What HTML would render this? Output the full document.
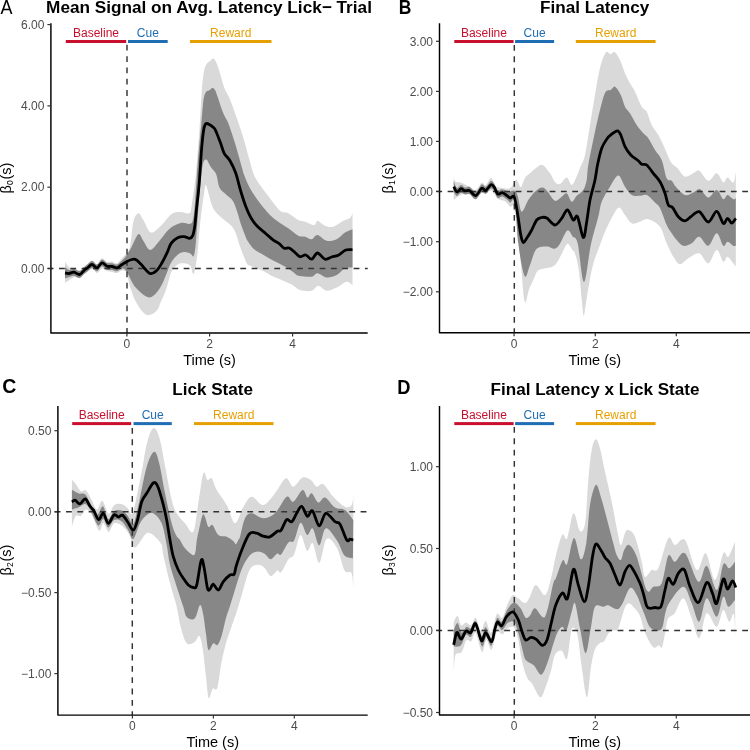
<!DOCTYPE html>
<html><head><meta charset="utf-8"><style>
html,body{margin:0;padding:0;background:#fff;width:750px;height:750px;overflow:hidden}
svg{display:block;will-change:transform}
text{font-family:"Liberation Sans", sans-serif}
</style></head><body>
<svg width="750" height="750" viewBox="0 0 750 750">
<rect width="750" height="750" fill="#fff"/>
<path d="M65.00,262.00C65.83,263.00 68.33,266.83 70.00,268.00C71.67,269.17 73.33,268.58 75.00,269.00C76.67,269.42 78.50,270.75 80.00,270.50C81.50,270.25 82.00,269.17 84.00,267.50C86.00,265.83 89.83,261.08 92.00,260.50C94.17,259.92 95.33,264.33 97.00,264.00C98.67,263.67 100.33,258.83 102.00,258.50C103.67,258.17 105.33,261.50 107.00,262.00C108.67,262.50 110.33,261.25 112.00,261.50C113.67,261.75 115.33,264.08 117.00,263.50C118.67,262.92 120.50,259.58 122.00,258.00C123.50,256.42 124.67,255.83 126.00,254.00C127.33,252.17 128.78,252.33 130.00,247.00C131.22,241.67 131.92,227.62 133.30,222.00C134.68,216.38 136.63,213.63 138.30,213.30C139.97,212.97 141.22,216.80 143.30,220.00C145.38,223.20 147.90,231.50 150.80,232.50C153.70,233.50 157.28,229.03 160.70,226.00C164.12,222.97 168.10,216.62 171.30,214.30C174.50,211.98 176.87,212.28 179.90,212.10C182.93,211.92 187.53,214.38 189.50,213.20C191.47,212.02 190.65,211.37 191.70,205.00C192.75,198.63 194.55,186.95 195.80,175.00C197.05,163.05 198.25,146.63 199.20,133.30C200.15,119.97 200.78,104.88 201.50,95.00C202.22,85.12 202.75,79.00 203.50,74.00C204.25,69.00 204.92,67.17 206.00,65.00C207.08,62.83 208.75,62.08 210.00,61.00C211.25,59.92 212.50,58.33 213.50,58.50C214.50,58.67 215.12,60.22 216.00,62.00C216.88,63.78 217.38,64.82 218.80,69.20C220.22,73.58 222.72,83.45 224.50,88.30C226.28,93.15 227.53,93.57 229.50,98.30C231.47,103.03 234.05,110.30 236.30,116.70C238.55,123.10 240.80,129.48 243.00,136.70C245.20,143.92 247.67,153.62 249.50,160.00C251.33,166.38 252.25,170.83 254.00,175.00C255.75,179.17 257.33,181.12 260.00,185.00C262.67,188.88 266.67,194.00 270.00,198.30C273.33,202.60 276.95,208.30 280.00,210.80C283.05,213.30 285.25,211.77 288.30,213.30C291.35,214.83 295.52,218.60 298.30,220.00C301.08,221.40 302.35,220.87 305.00,221.70C307.65,222.53 312.12,225.15 314.20,225.00C316.28,224.85 315.70,220.67 317.50,220.80C319.30,220.93 322.37,224.82 325.00,225.80C327.63,226.78 330.25,227.53 333.30,226.70C336.35,225.87 340.52,222.25 343.30,220.80C346.08,219.35 348.47,219.25 350.00,218.00C351.53,216.75 352.08,214.08 352.50,213.30L352.50,285.00C351.53,284.45 349.33,281.28 346.70,281.70C344.07,282.12 340.03,285.98 336.70,287.50C333.37,289.02 329.77,291.08 326.70,290.80C323.63,290.52 320.80,285.80 318.30,285.80C315.80,285.80 314.75,290.10 311.70,290.80C308.65,291.50 303.33,291.05 300.00,290.00C296.67,288.95 295.03,286.30 291.70,284.50C288.37,282.70 283.28,280.62 280.00,279.20C276.72,277.78 274.27,277.07 272.00,276.00C269.73,274.93 268.40,273.87 266.40,272.80C264.40,271.73 262.40,270.67 260.00,269.60C257.60,268.53 254.13,267.33 252.00,266.40C249.87,265.47 248.53,265.60 247.20,264.00C245.87,262.40 245.20,259.73 244.00,256.80C242.80,253.87 241.78,251.15 240.00,246.40C238.22,241.65 236.40,233.10 233.30,228.30C230.20,223.50 224.83,221.12 221.40,217.60C217.97,214.08 215.25,212.55 212.70,207.20C210.15,201.85 207.53,187.82 206.10,185.50C204.67,183.18 205.02,187.67 204.10,193.30C203.18,198.93 201.53,211.18 200.60,219.30C199.67,227.42 199.12,235.55 198.50,242.00C197.88,248.45 197.70,252.67 196.90,258.00C196.10,263.33 194.85,272.75 193.70,274.00C192.55,275.25 191.60,267.28 190.00,265.50C188.40,263.72 186.15,263.48 184.10,263.30C182.05,263.12 179.83,262.95 177.70,264.40C175.57,265.85 173.25,267.73 171.30,272.00C169.35,276.27 167.77,285.00 166.00,290.00C164.23,295.00 162.25,298.53 160.70,302.00C159.15,305.47 159.03,308.63 156.70,310.80C154.37,312.97 150.03,316.25 146.70,315.00C143.37,313.75 139.48,308.02 136.70,303.30C133.92,298.58 131.62,291.75 130.00,286.70C128.38,281.65 128.33,275.70 127.00,273.00C125.67,270.30 123.67,270.50 122.00,270.50C120.33,270.50 118.67,272.75 117.00,273.00C115.33,273.25 113.67,272.33 112.00,272.00C110.33,271.67 108.67,271.58 107.00,271.00C105.33,270.42 103.67,268.17 102.00,268.50C100.33,268.83 98.67,272.92 97.00,273.00C95.33,273.08 94.17,268.75 92.00,269.00C89.83,269.25 86.00,273.00 84.00,274.50C82.00,276.00 81.50,277.58 80.00,278.00C78.50,278.42 76.67,276.75 75.00,277.00C73.33,277.25 71.67,278.50 70.00,279.50C68.33,280.50 65.83,282.42 65.00,283.00Z" fill="#d9d9d9"/>
<path d="M65.00,267.00C65.67,267.50 67.50,269.70 69.00,270.00C70.50,270.30 72.25,268.63 74.00,268.80C75.75,268.97 77.83,271.30 79.50,271.00C81.17,270.70 82.58,268.17 84.00,267.00C85.42,265.83 86.67,265.00 88.00,264.00C89.33,263.00 90.50,260.92 92.00,261.00C93.50,261.08 95.33,264.75 97.00,264.50C98.67,264.25 100.33,259.75 102.00,259.50C103.67,259.25 105.33,262.38 107.00,263.00C108.67,263.62 110.33,262.95 112.00,263.20C113.67,263.45 115.33,264.95 117.00,264.50C118.67,264.05 120.50,261.92 122.00,260.50C123.50,259.08 124.50,258.08 126.00,256.00C127.50,253.92 128.95,251.63 131.00,248.00C133.05,244.37 136.25,235.40 138.30,234.20C140.35,233.00 141.35,238.17 143.30,240.80C145.25,243.43 147.47,249.80 150.00,250.00C152.53,250.20 155.65,245.12 158.50,242.00C161.35,238.88 164.60,233.97 167.10,231.30C169.60,228.63 171.02,227.42 173.50,226.00C175.98,224.58 179.33,223.15 182.00,222.80C184.67,222.45 187.72,224.25 189.50,223.90C191.28,223.55 191.82,223.85 192.70,220.70C193.58,217.55 193.92,215.12 194.80,205.00C195.68,194.88 196.93,173.33 198.00,160.00C199.07,146.67 200.28,135.00 201.20,125.00C202.12,115.00 202.70,105.50 203.50,100.00C204.30,94.50 205.08,93.58 206.00,92.00C206.92,90.42 207.92,91.17 209.00,90.50C210.08,89.83 211.50,88.08 212.50,88.00C213.50,87.92 214.25,88.83 215.00,90.00C215.75,91.17 215.62,91.12 217.00,95.00C218.38,98.88 221.42,108.58 223.30,113.30C225.18,118.02 226.35,118.30 228.30,123.30C230.25,128.30 232.77,136.07 235.00,143.30C237.23,150.53 240.17,161.42 241.70,166.70C243.23,171.98 242.82,171.40 244.20,175.00C245.58,178.60 247.37,183.58 250.00,188.30C252.63,193.02 256.67,198.85 260.00,203.30C263.33,207.75 266.95,211.93 270.00,215.00C273.05,218.07 275.25,219.48 278.30,221.70C281.35,223.92 284.97,225.95 288.30,228.30C291.63,230.65 295.52,234.40 298.30,235.80C301.08,237.20 302.77,236.13 305.00,236.70C307.23,237.27 309.62,239.48 311.70,239.20C313.78,238.92 315.00,234.73 317.50,235.00C320.00,235.27 323.50,240.10 326.70,240.80C329.90,241.50 333.65,240.58 336.70,239.20C339.75,237.82 342.37,234.17 345.00,232.50C347.63,230.83 351.25,229.75 352.50,229.20L352.50,267.50C351.25,267.63 347.63,267.05 345.00,268.30C342.37,269.55 339.75,273.47 336.70,275.00C333.65,276.53 329.90,277.78 326.70,277.50C323.50,277.22 320.00,273.43 317.50,273.30C315.00,273.17 314.62,276.25 311.70,276.70C308.78,277.15 302.62,276.38 300.00,276.00C297.38,275.62 297.73,275.47 296.00,274.40C294.27,273.33 292.00,271.20 289.60,269.60C287.20,268.00 284.27,266.27 281.60,264.80C278.93,263.33 276.53,262.40 273.60,260.80C270.67,259.20 267.20,257.07 264.00,255.20C260.80,253.33 257.07,251.87 254.40,249.60C251.73,247.33 249.60,244.13 248.00,241.60C246.40,239.07 245.92,237.13 244.80,234.40C243.68,231.67 243.12,230.47 241.30,225.20C239.48,219.93 236.35,207.83 233.90,202.80C231.45,197.77 228.97,197.45 226.60,195.00C224.23,192.55 221.43,191.55 219.70,188.10C217.97,184.65 217.65,177.77 216.20,174.30C214.75,170.83 212.68,169.77 211.00,167.30C209.32,164.83 207.55,159.50 206.10,159.50C204.65,159.50 203.50,160.22 202.30,167.30C201.10,174.38 199.97,189.55 198.90,202.00C197.83,214.45 196.77,233.02 195.90,242.00C195.03,250.98 194.60,253.95 193.70,255.90C192.80,257.85 192.10,254.33 190.50,253.70C188.90,253.07 186.23,251.92 184.10,252.10C181.97,252.28 179.83,253.10 177.70,254.80C175.57,256.50 173.25,258.93 171.30,262.30C169.35,265.67 167.77,270.92 166.00,275.00C164.23,279.08 162.82,283.33 160.70,286.80C158.58,290.27 155.63,294.15 153.30,295.80C150.97,297.45 149.75,298.22 146.70,296.70C143.65,295.18 138.33,290.87 135.00,286.70C131.67,282.53 128.87,274.73 126.70,271.70C124.53,268.67 123.62,268.57 122.00,268.50C120.38,268.43 118.67,271.05 117.00,271.30C115.33,271.55 113.67,270.27 112.00,270.00C110.33,269.73 108.67,270.32 107.00,269.70C105.33,269.08 103.67,266.03 102.00,266.30C100.33,266.57 98.67,271.02 97.00,271.30C95.33,271.58 93.50,268.05 92.00,268.00C90.50,267.95 89.33,270.00 88.00,271.00C86.67,272.00 85.42,272.83 84.00,274.00C82.58,275.17 81.17,277.72 79.50,278.00C77.83,278.28 75.75,275.87 74.00,275.70C72.25,275.53 70.50,276.53 69.00,277.00C67.50,277.47 65.67,278.25 65.00,278.50Z" fill="#878787"/>
<line x1="127.00" y1="44.80" x2="127.00" y2="332.90" stroke="#333" stroke-width="1.45" stroke-dasharray="5.8 5.53"/>
<line x1="47.70" y1="268.40" x2="367.70" y2="268.40" stroke="#333" stroke-width="1.45" stroke-dasharray="5.8 5.53"/>
<path d="M65.00,273.00C65.67,273.08 67.50,273.63 69.00,273.50C70.50,273.37 72.25,272.03 74.00,272.20C75.75,272.37 77.83,274.78 79.50,274.50C81.17,274.22 82.58,271.67 84.00,270.50C85.42,269.33 86.67,268.50 88.00,267.50C89.33,266.50 90.50,264.45 92.00,264.50C93.50,264.55 95.33,268.08 97.00,267.80C98.67,267.52 100.33,263.07 102.00,262.80C103.67,262.53 105.33,265.58 107.00,266.20C108.67,266.82 110.33,266.23 112.00,266.50C113.67,266.77 115.33,268.13 117.00,267.80C118.67,267.47 120.33,265.55 122.00,264.50C123.67,263.45 125.33,262.33 127.00,261.50C128.67,260.67 130.50,259.80 132.00,259.50C133.50,259.20 134.38,258.78 136.00,259.70C137.62,260.62 139.37,262.70 141.70,265.00C144.03,267.30 147.55,272.53 150.00,273.50C152.45,274.47 154.45,272.50 156.40,270.80C158.35,269.10 159.92,266.32 161.70,263.30C163.48,260.28 165.50,256.07 167.10,252.70C168.70,249.33 169.53,245.60 171.30,243.10C173.07,240.60 175.57,238.77 177.70,237.70C179.83,236.63 182.13,236.60 184.10,236.70C186.07,236.80 188.07,238.48 189.50,238.30C190.93,238.12 191.82,237.65 192.70,235.60C193.58,233.55 194.18,230.27 194.80,226.00C195.42,221.73 195.67,217.12 196.40,210.00C197.13,202.88 198.35,193.30 199.20,183.30C200.05,173.30 200.78,158.72 201.50,150.00C202.22,141.28 202.88,135.25 203.50,131.00C204.12,126.75 204.53,125.73 205.20,124.50C205.87,123.27 206.07,123.05 207.50,123.60C208.93,124.15 212.35,126.43 213.80,127.80C215.25,129.17 215.33,129.93 216.20,131.80C217.07,133.67 218.20,136.93 219.00,139.00C219.80,141.07 220.13,141.82 221.00,144.20C221.87,146.58 222.70,150.53 224.20,153.30C225.70,156.07 228.07,157.47 230.00,160.80C231.93,164.13 234.07,168.43 235.80,173.30C237.53,178.17 238.77,184.55 240.40,190.00C242.03,195.45 243.85,201.38 245.60,206.00C247.35,210.62 248.95,214.32 250.90,217.70C252.85,221.08 254.80,223.63 257.30,226.30C259.80,228.97 263.23,231.40 265.90,233.70C268.57,236.00 271.08,238.45 273.30,240.10C275.52,241.75 277.38,242.23 279.20,243.60C281.02,244.97 282.53,247.57 284.20,248.30C285.87,249.03 287.40,247.30 289.20,248.00C291.00,248.70 293.20,251.05 295.00,252.50C296.80,253.95 298.20,256.28 300.00,256.70C301.80,257.12 303.85,254.58 305.80,255.00C307.75,255.42 309.75,259.53 311.70,259.20C313.65,258.87 315.28,253.00 317.50,253.00C319.72,253.00 322.63,258.53 325.00,259.20C327.37,259.87 329.48,257.65 331.70,257.00C333.92,256.35 335.95,256.47 338.30,255.30C340.65,254.13 343.43,250.93 345.80,250.00C348.17,249.07 351.38,249.75 352.50,249.70" fill="none" stroke="#000" stroke-width="2.8" stroke-linejoin="round" stroke-linecap="butt"/>
<path d="M50.90,23.20L50.90,332.90L367.70,332.90" fill="none" stroke="#000" stroke-width="1.45" stroke-linejoin="round"/>
<line x1="47.40" y1="24.60" x2="50.90" y2="24.60" stroke="#333" stroke-width="1.2"/>
<text x="44.40" y="28.80" text-anchor="end" font-size="12" fill="#4d4d4d">6.00</text>
<line x1="47.40" y1="105.90" x2="50.90" y2="105.90" stroke="#333" stroke-width="1.2"/>
<text x="44.40" y="110.10" text-anchor="end" font-size="12" fill="#4d4d4d">4.00</text>
<line x1="47.40" y1="187.20" x2="50.90" y2="187.20" stroke="#333" stroke-width="1.2"/>
<text x="44.40" y="191.40" text-anchor="end" font-size="12" fill="#4d4d4d">2.00</text>
<line x1="47.40" y1="268.50" x2="50.90" y2="268.50" stroke="#333" stroke-width="1.2"/>
<text x="44.40" y="272.70" text-anchor="end" font-size="12" fill="#4d4d4d">0.00</text>
<line x1="126.90" y1="332.90" x2="126.90" y2="336.40" stroke="#333" stroke-width="1.2"/>
<text x="126.90" y="347.60" text-anchor="middle" font-size="12" fill="#4d4d4d">0</text>
<line x1="209.60" y1="332.90" x2="209.60" y2="336.40" stroke="#333" stroke-width="1.2"/>
<text x="209.60" y="347.60" text-anchor="middle" font-size="12" fill="#4d4d4d">2</text>
<line x1="292.60" y1="332.90" x2="292.60" y2="336.40" stroke="#333" stroke-width="1.2"/>
<text x="292.60" y="347.60" text-anchor="middle" font-size="12" fill="#4d4d4d">4</text>
<rect x="65.80" y="40.00" width="60.40" height="3" fill="#c8102e"/>
<text x="96.00" y="36.90" text-anchor="middle" font-size="12" fill="#c8102e">Baseline</text>
<rect x="128.00" y="40.00" width="39.70" height="3" fill="#1f6eb4"/>
<text x="147.85" y="36.90" text-anchor="middle" font-size="12" fill="#1f6eb4">Cue</text>
<rect x="190.00" y="40.00" width="81.50" height="3" fill="#e69f00"/>
<text x="230.75" y="36.90" text-anchor="middle" font-size="12" fill="#e69f00">Reward</text>
<text x="209.00" y="12.50" text-anchor="middle" font-size="17.2" font-weight="bold" fill="#000">Mean Signal on Avg. Latency Lick− Trial</text>
<text transform="translate(0.60,13.60) scale(1,1.12)" font-size="18" font-weight="normal" fill="#000">A</text>
<text x="209.50" y="364.80" text-anchor="middle" font-size="14.5" fill="#000">Time (s)</text>
<text transform="translate(11.00,178.00) rotate(-90)" text-anchor="middle" font-size="14.5" fill="#000">β<tspan font-size="8.5" dy="2.2">0</tspan><tspan dy="-2.2" dx="0.8">(s)</tspan></text>
<path d="M453.70,173.30C453.92,174.63 453.78,179.73 455.00,181.30C456.22,182.87 458.55,181.80 461.00,182.70C463.45,183.60 467.25,185.48 469.70,186.70C472.15,187.92 473.70,190.67 475.70,190.00C477.70,189.33 480.03,183.48 481.70,182.70C483.37,181.92 484.15,186.08 485.70,185.30C487.25,184.52 489.33,177.88 491.00,178.00C492.67,178.12 493.82,184.33 495.70,186.00C497.58,187.67 499.87,187.67 502.30,188.00C504.73,188.33 508.07,189.33 510.30,188.00C512.53,186.67 514.42,181.00 515.70,180.00C516.98,179.00 517.12,180.83 518.00,182.00C518.88,183.17 519.83,187.67 521.00,187.00C522.17,186.33 523.50,180.28 525.00,178.00C526.50,175.72 528.17,174.97 530.00,173.30C531.83,171.63 533.92,169.38 536.00,168.00C538.08,166.62 540.17,164.12 542.50,165.00C544.83,165.88 547.92,170.47 550.00,173.30C552.08,176.13 553.33,180.22 555.00,182.00C556.67,183.78 558.05,184.75 560.00,184.00C561.95,183.25 564.75,177.33 566.70,177.50C568.65,177.67 570.15,184.92 571.70,185.00C573.25,185.08 574.62,180.83 576.00,178.00C577.38,175.17 578.50,171.83 580.00,168.00C581.50,164.17 583.33,162.17 585.00,155.00C586.67,147.83 588.33,135.00 590.00,125.00C591.67,115.00 593.33,104.50 595.00,95.00C596.67,85.50 598.20,75.08 600.00,68.00C601.80,60.92 604.00,54.80 605.80,52.50C607.60,50.20 609.32,54.28 610.80,54.20C612.28,54.12 613.17,51.03 614.70,52.00C616.23,52.97 618.28,56.45 620.00,60.00C621.72,63.55 623.33,69.42 625.00,73.30C626.67,77.18 628.33,80.23 630.00,83.30C631.67,86.37 633.05,87.80 635.00,91.70C636.95,95.60 639.75,103.37 641.70,106.70C643.65,110.03 645.03,108.65 646.70,111.70C648.37,114.75 649.77,121.12 651.70,125.00C653.63,128.88 656.37,131.67 658.30,135.00C660.23,138.33 661.63,141.38 663.30,145.00C664.97,148.62 666.90,153.65 668.30,156.70C669.70,159.75 670.17,161.37 671.70,163.30C673.23,165.23 675.28,166.07 677.50,168.30C679.72,170.53 682.37,175.87 685.00,176.70C687.63,177.53 690.93,174.28 693.30,173.30C695.67,172.32 696.70,169.55 699.20,170.80C701.70,172.05 705.38,180.38 708.30,180.80C711.22,181.22 714.20,173.02 716.70,173.30C719.20,173.58 721.50,181.80 723.30,182.50C725.10,183.20 725.83,177.50 727.50,177.50C729.17,177.50 731.92,183.47 733.30,182.50C734.68,181.53 735.38,173.50 735.80,171.70L735.80,266.70C735.38,266.13 734.68,264.97 733.30,263.30C731.92,261.63 729.17,256.97 727.50,256.70C725.83,256.43 725.10,262.82 723.30,261.70C721.50,260.58 719.20,249.73 716.70,250.00C714.20,250.27 711.22,262.75 708.30,263.30C705.38,263.85 702.53,254.13 699.20,253.30C695.87,252.47 691.50,256.48 688.30,258.30C685.10,260.12 682.50,264.47 680.00,264.20C677.50,263.93 675.52,260.18 673.30,256.70C671.08,253.22 668.92,248.30 666.70,243.30C664.48,238.30 663.07,230.72 660.00,226.70C656.93,222.68 651.63,220.03 648.30,219.20C644.97,218.37 642.77,221.02 640.00,221.70C637.23,222.38 634.20,224.42 631.70,223.30C629.20,222.18 627.08,217.63 625.00,215.00C622.92,212.37 621.15,207.50 619.20,207.50C617.25,207.50 615.67,210.97 613.30,215.00C610.93,219.03 607.22,226.70 605.00,231.70C602.78,236.70 601.97,239.62 600.00,245.00C598.03,250.38 595.13,256.83 593.20,264.00C591.27,271.17 589.70,280.83 588.40,288.00C587.10,295.17 586.20,302.40 585.40,307.00C584.60,311.60 584.20,316.77 583.60,315.60C583.00,314.43 582.60,307.60 581.80,300.00C581.00,292.40 579.93,277.75 578.80,270.00C577.67,262.25 576.03,256.78 575.00,253.50C573.97,250.22 573.88,251.90 572.60,250.30C571.32,248.70 569.08,243.37 567.30,243.90C565.52,244.43 563.68,250.30 561.90,253.50C560.12,256.70 558.20,260.88 556.60,263.10C555.00,265.32 553.90,266.00 552.30,266.80C550.70,267.60 548.77,267.55 547.00,267.90C545.23,268.25 543.30,268.37 541.70,268.90C540.10,269.43 538.73,269.40 537.40,271.10C536.07,272.80 535.12,276.00 533.70,279.10C532.28,282.20 530.42,286.05 528.90,289.70C527.38,293.35 526.08,306.78 524.60,301.00C523.12,295.22 521.72,270.28 520.00,255.00C518.28,239.72 515.92,217.35 514.30,209.30C512.68,201.25 511.85,208.03 510.30,206.70C508.75,205.37 507.10,202.63 505.00,201.30C502.90,199.97 499.70,200.25 497.70,198.70C495.70,197.15 494.45,193.33 493.00,192.00C491.55,190.67 490.88,190.48 489.00,190.70C487.12,190.92 483.92,191.97 481.70,193.30C479.48,194.63 477.70,198.58 475.70,198.70C473.70,198.82 472.15,194.67 469.70,194.00C467.25,193.33 463.67,193.70 461.00,194.70C458.33,195.70 454.92,199.12 453.70,200.00Z" fill="#d9d9d9"/>
<path d="M453.70,181.00C454.25,182.17 455.78,187.33 457.00,188.00C458.22,188.67 459.67,185.08 461.00,185.00C462.33,184.92 463.55,187.17 465.00,187.50C466.45,187.83 467.92,186.25 469.70,187.00C471.48,187.75 473.70,192.42 475.70,192.00C477.70,191.58 480.03,185.37 481.70,184.50C483.37,183.63 484.15,187.38 485.70,186.80C487.25,186.22 489.57,181.50 491.00,181.00C492.43,180.50 493.18,182.22 494.30,183.80C495.42,185.38 496.37,189.60 497.70,190.50C499.03,191.40 500.42,189.00 502.30,189.20C504.18,189.40 507.00,191.45 509.00,191.70C511.00,191.95 512.85,189.98 514.30,190.70C515.75,191.42 516.47,192.50 517.70,196.00C518.93,199.50 519.93,211.03 521.70,211.70C523.47,212.37 526.08,203.33 528.30,200.00C530.52,196.67 532.63,193.78 535.00,191.70C537.37,189.62 540.28,187.37 542.50,187.50C544.72,187.63 546.22,190.28 548.30,192.50C550.38,194.72 552.77,200.10 555.00,200.80C557.23,201.50 559.75,197.95 561.70,196.70C563.65,195.45 565.03,192.47 566.70,193.30C568.37,194.13 570.03,201.28 571.70,201.70C573.37,202.12 574.77,197.75 576.70,195.80C578.63,193.85 581.63,192.63 583.30,190.00C584.97,187.37 585.87,184.17 586.70,180.00C587.53,175.83 586.92,173.05 588.30,165.00C589.68,156.95 592.77,141.98 595.00,131.70C597.23,121.42 599.90,109.97 601.70,103.30C603.50,96.63 604.28,93.92 605.80,91.70C607.32,89.48 609.27,90.83 610.80,90.00C612.33,89.17 613.33,85.87 615.00,86.70C616.67,87.53 619.13,91.67 620.80,95.00C622.47,98.33 623.47,103.65 625.00,106.70C626.53,109.75 628.05,110.25 630.00,113.30C631.95,116.35 634.48,121.67 636.70,125.00C638.92,128.33 641.37,131.08 643.30,133.30C645.23,135.52 646.35,135.52 648.30,138.30C650.25,141.08 652.77,146.38 655.00,150.00C657.23,153.62 659.75,155.28 661.70,160.00C663.65,164.72 665.03,174.83 666.70,178.30C668.37,181.77 670.18,179.40 671.70,180.80C673.22,182.20 673.58,184.33 675.80,186.70C678.02,189.07 682.08,194.03 685.00,195.00C687.92,195.97 690.80,193.47 693.30,192.50C695.80,191.53 697.50,188.37 700.00,189.20C702.50,190.03 705.52,197.37 708.30,197.50C711.08,197.63 714.20,189.72 716.70,190.00C719.20,190.28 721.50,198.37 723.30,199.20C725.10,200.03 725.83,195.00 727.50,195.00C729.17,195.00 731.92,198.65 733.30,199.20C734.68,199.75 735.38,198.45 735.80,198.30L735.80,245.80C735.38,245.80 734.68,246.48 733.30,245.80C731.92,245.12 729.17,241.70 727.50,241.70C725.83,241.70 725.10,247.20 723.30,245.80C721.50,244.40 719.20,233.30 716.70,233.30C714.20,233.30 711.22,245.23 708.30,245.80C705.38,246.37 701.97,237.12 699.20,236.70C696.43,236.28 694.35,241.78 691.70,243.30C689.05,244.82 685.80,246.35 683.30,245.80C680.80,245.25 678.63,242.08 676.70,240.00C674.77,237.92 673.37,235.80 671.70,233.30C670.03,230.80 668.65,229.22 666.70,225.00C664.75,220.78 661.95,211.75 660.00,208.00C658.05,204.25 657.22,204.67 655.00,202.50C652.78,200.33 649.20,196.12 646.70,195.00C644.20,193.88 642.50,195.80 640.00,195.80C637.50,195.80 634.20,196.52 631.70,195.00C629.20,193.48 627.23,189.95 625.00,186.70C622.77,183.45 620.80,175.50 618.30,175.50C615.80,175.50 612.77,182.33 610.00,186.70C607.23,191.07 603.65,196.70 601.70,201.70C599.75,206.70 600.12,209.48 598.30,216.70C596.48,223.92 593.18,234.12 590.80,245.00C588.42,255.88 586.20,282.33 584.00,282.00C581.80,281.67 579.50,250.60 577.60,243.00C575.70,235.40 574.32,238.48 572.60,236.40C570.88,234.32 569.43,229.25 567.30,230.50C565.17,231.75 561.93,240.87 559.80,243.90C557.67,246.93 556.63,248.27 554.50,248.70C552.37,249.13 550.03,246.42 547.00,246.50C543.97,246.58 539.15,246.08 536.30,249.20C533.45,252.32 531.85,260.73 529.90,265.20C527.95,269.67 526.53,279.65 524.60,276.00C522.67,272.35 519.90,255.68 518.30,243.30C516.70,230.92 516.33,208.50 515.00,201.70C513.67,194.90 511.63,202.87 510.30,202.50C508.97,202.13 508.33,200.50 507.00,199.50C505.67,198.50 503.85,196.75 502.30,196.50C500.75,196.25 499.03,198.92 497.70,198.00C496.37,197.08 495.42,192.58 494.30,191.00C493.18,189.42 492.43,188.00 491.00,188.50C489.57,189.00 487.25,193.42 485.70,194.00C484.15,194.58 483.37,191.12 481.70,192.00C480.03,192.88 477.70,198.92 475.70,199.30C473.70,199.68 471.48,195.10 469.70,194.30C467.92,193.50 466.45,194.80 465.00,194.50C463.55,194.20 462.33,192.25 461.00,192.50C459.67,192.75 458.22,196.08 457.00,196.00C455.78,195.92 454.25,192.67 453.70,192.00Z" fill="#878787"/>
<line x1="514.30" y1="45.00" x2="514.30" y2="332.80" stroke="#333" stroke-width="1.45" stroke-dasharray="5.8 5.53"/>
<line x1="436.30" y1="191.40" x2="750.50" y2="191.40" stroke="#333" stroke-width="1.45" stroke-dasharray="5.8 5.53"/>
<path d="M453.70,186.70C454.25,187.58 455.78,191.67 457.00,192.00C458.22,192.33 459.67,188.88 461.00,188.70C462.33,188.52 463.55,190.57 465.00,190.90C466.45,191.23 467.92,189.90 469.70,190.70C471.48,191.50 473.70,196.10 475.70,195.70C477.70,195.30 480.03,189.18 481.70,188.30C483.37,187.42 484.15,191.00 485.70,190.40C487.25,189.80 489.57,185.22 491.00,184.70C492.43,184.18 493.18,185.75 494.30,187.30C495.42,188.85 496.37,193.10 497.70,194.00C499.03,194.90 500.75,192.42 502.30,192.70C503.85,192.98 505.67,194.82 507.00,195.70C508.33,196.58 509.10,197.78 510.30,198.00C511.50,198.22 513.00,194.45 514.20,197.00C515.40,199.55 516.40,206.97 517.50,213.30C518.60,219.63 519.83,230.13 520.80,235.00C521.77,239.87 522.32,241.95 523.30,242.50C524.28,243.05 525.30,240.38 526.70,238.30C528.10,236.22 530.03,233.05 531.70,230.00C533.37,226.95 535.03,222.08 536.70,220.00C538.37,217.92 540.03,217.83 541.70,217.50C543.37,217.17 544.48,216.75 546.70,218.00C548.92,219.25 552.50,224.95 555.00,225.00C557.50,225.05 559.62,220.80 561.70,218.30C563.78,215.80 565.57,209.72 567.50,210.00C569.43,210.28 571.63,218.88 573.30,220.00C574.97,221.12 575.83,213.78 577.50,216.70C579.17,219.62 581.77,236.67 583.30,237.50C584.83,238.33 585.58,227.95 586.70,221.70C587.82,215.45 588.62,206.95 590.00,200.00C591.38,193.05 593.75,185.83 595.00,180.00C596.25,174.17 596.38,170.28 597.50,165.00C598.62,159.72 600.17,152.60 601.70,148.30C603.23,144.00 605.03,141.55 606.70,139.20C608.37,136.85 609.90,135.60 611.70,134.20C613.50,132.80 615.98,130.67 617.50,130.80C619.02,130.93 619.55,132.35 620.80,135.00C622.05,137.65 623.33,143.37 625.00,146.70C626.67,150.03 628.58,152.65 630.80,155.00C633.02,157.35 636.48,159.27 638.30,160.80C640.12,162.33 640.30,163.50 641.70,164.20C643.10,164.90 644.77,163.48 646.70,165.00C648.63,166.52 651.08,170.52 653.30,173.30C655.52,176.08 658.05,178.37 660.00,181.70C661.95,185.03 663.62,189.42 665.00,193.30C666.38,197.18 667.05,202.63 668.30,205.00C669.55,207.37 670.83,205.55 672.50,207.50C674.17,209.45 676.22,214.48 678.30,216.70C680.38,218.92 682.92,220.80 685.00,220.80C687.08,220.80 688.43,218.22 690.80,216.70C693.17,215.18 696.28,210.82 699.20,211.70C702.12,212.58 705.38,222.07 708.30,222.00C711.22,221.93 714.20,211.08 716.70,211.30C719.20,211.52 721.50,222.13 723.30,223.30C725.10,224.47 726.10,218.35 727.50,218.30C728.90,218.25 730.32,223.00 731.70,223.00C733.08,223.00 735.12,219.08 735.80,218.30" fill="none" stroke="#000" stroke-width="2.8" stroke-linejoin="round" stroke-linecap="butt"/>
<path d="M439.50,23.30L439.50,332.80L750.50,332.80" fill="none" stroke="#000" stroke-width="1.45" stroke-linejoin="round"/>
<line x1="436.00" y1="41.30" x2="439.50" y2="41.30" stroke="#333" stroke-width="1.2"/>
<text x="433.00" y="45.50" text-anchor="end" font-size="12" fill="#4d4d4d">3.00</text>
<line x1="436.00" y1="91.40" x2="439.50" y2="91.40" stroke="#333" stroke-width="1.2"/>
<text x="433.00" y="95.60" text-anchor="end" font-size="12" fill="#4d4d4d">2.00</text>
<line x1="436.00" y1="141.40" x2="439.50" y2="141.40" stroke="#333" stroke-width="1.2"/>
<text x="433.00" y="145.60" text-anchor="end" font-size="12" fill="#4d4d4d">1.00</text>
<line x1="436.00" y1="191.40" x2="439.50" y2="191.40" stroke="#333" stroke-width="1.2"/>
<text x="433.00" y="195.60" text-anchor="end" font-size="12" fill="#4d4d4d">0.00</text>
<line x1="436.00" y1="241.70" x2="439.50" y2="241.70" stroke="#333" stroke-width="1.2"/>
<text x="433.00" y="245.90" text-anchor="end" font-size="12" fill="#4d4d4d">−1.00</text>
<line x1="436.00" y1="291.80" x2="439.50" y2="291.80" stroke="#333" stroke-width="1.2"/>
<text x="433.00" y="296.00" text-anchor="end" font-size="12" fill="#4d4d4d">−2.00</text>
<line x1="514.10" y1="332.80" x2="514.10" y2="336.30" stroke="#333" stroke-width="1.2"/>
<text x="514.10" y="347.50" text-anchor="middle" font-size="12" fill="#4d4d4d">0</text>
<line x1="595.30" y1="332.80" x2="595.30" y2="336.30" stroke="#333" stroke-width="1.2"/>
<text x="595.30" y="347.50" text-anchor="middle" font-size="12" fill="#4d4d4d">2</text>
<line x1="676.30" y1="332.80" x2="676.30" y2="336.30" stroke="#333" stroke-width="1.2"/>
<text x="676.30" y="347.50" text-anchor="middle" font-size="12" fill="#4d4d4d">4</text>
<rect x="454.30" y="40.00" width="59.30" height="3" fill="#c8102e"/>
<text x="483.95" y="36.90" text-anchor="middle" font-size="12" fill="#c8102e">Baseline</text>
<rect x="515.10" y="40.00" width="39.00" height="3" fill="#1f6eb4"/>
<text x="534.60" y="36.90" text-anchor="middle" font-size="12" fill="#1f6eb4">Cue</text>
<rect x="575.80" y="40.00" width="79.80" height="3" fill="#e69f00"/>
<text x="615.70" y="36.90" text-anchor="middle" font-size="12" fill="#e69f00">Reward</text>
<text x="594.70" y="12.50" text-anchor="middle" font-size="17.1" font-weight="bold" fill="#000">Final Latency</text>
<text transform="translate(398.80,13.80) scale(1,1.12)" font-size="17.5" font-weight="bold" fill="#000">B</text>
<text x="594.80" y="364.80" text-anchor="middle" font-size="14.5" fill="#000">Time (s)</text>
<text transform="translate(393.00,178.00) rotate(-90)" text-anchor="middle" font-size="14.5" fill="#000">β<tspan font-size="8.5" dy="2.2">1</tspan><tspan dy="-2.2" dx="0.8">(s)</tspan></text>
<path d="M71.90,480.10C72.53,480.73 74.18,482.03 75.70,483.90C77.22,485.77 79.32,490.23 81.00,491.30C82.68,492.37 84.02,488.87 85.80,490.30C87.58,491.73 89.83,496.70 91.70,499.90C93.57,503.10 95.23,509.33 97.00,509.50C98.77,509.67 100.35,500.20 102.30,500.90C104.25,501.60 106.73,512.98 108.70,513.70C110.67,514.42 111.97,506.80 114.10,505.20C116.23,503.60 119.20,503.57 121.50,504.10C123.80,504.63 126.07,506.87 127.90,508.40C129.73,509.93 130.73,516.70 132.50,513.30C134.27,509.90 136.77,496.05 138.50,488.00C140.23,479.95 141.73,471.33 142.90,465.00C144.07,458.67 144.32,455.28 145.50,450.00C146.68,444.72 148.47,436.92 150.00,433.30C151.53,429.68 153.03,427.18 154.70,428.30C156.37,429.42 158.15,433.05 160.00,440.00C161.85,446.95 163.85,460.00 165.80,470.00C167.75,480.00 169.88,492.78 171.70,500.00C173.52,507.22 174.48,509.42 176.70,513.30C178.92,517.18 182.23,520.23 185.00,523.30C187.77,526.37 191.08,535.03 193.30,531.70C195.52,528.37 196.63,513.03 198.30,503.30C199.97,493.57 201.77,477.18 203.30,473.30C204.83,469.42 206.10,479.17 207.50,480.00C208.90,480.83 210.17,476.63 211.70,478.30C213.23,479.97 214.20,485.55 216.70,490.00C219.20,494.45 223.65,499.45 226.70,505.00C229.75,510.55 232.23,522.97 235.00,523.30C237.77,523.63 240.52,511.43 243.30,507.00C246.08,502.57 248.37,497.03 251.70,496.70C255.03,496.37 259.42,505.57 263.30,505.00C267.18,504.43 271.25,497.75 275.00,493.30C278.75,488.85 282.75,479.40 285.80,478.30C288.85,477.20 290.52,486.83 293.30,486.70C296.08,486.57 299.58,478.62 302.50,477.50C305.42,476.38 308.43,478.47 310.80,480.00C313.17,481.53 314.62,486.00 316.70,486.70C318.78,487.40 320.53,482.53 323.30,484.20C326.07,485.87 329.68,492.95 333.30,496.70C336.92,500.45 341.93,505.32 345.00,506.70C348.07,508.08 350.32,506.95 351.70,505.00C353.08,503.05 353.03,496.67 353.30,495.00L353.30,588.00C353.00,585.50 352.97,575.93 351.50,573.00C350.03,570.07 346.92,574.57 344.50,570.40C342.08,566.23 339.97,553.28 337.00,548.00C334.03,542.72 329.65,536.22 326.70,538.70C323.75,541.18 321.63,562.13 319.30,562.90C316.97,563.67 314.73,545.32 312.70,543.30C310.67,541.28 309.12,552.20 307.10,550.80C305.08,549.40 302.77,534.28 300.60,534.90C298.43,535.52 296.12,550.45 294.10,554.50C292.08,558.55 290.68,556.23 288.50,559.20C286.32,562.17 282.87,570.43 281.00,572.30C279.13,574.17 279.02,569.78 277.30,570.40C275.58,571.02 272.88,576.47 270.70,576.00C268.52,575.53 266.37,569.47 264.20,567.60C262.03,565.73 260.18,564.33 257.70,564.80C255.22,565.27 251.95,565.42 249.30,570.40C246.65,575.38 243.90,587.82 241.80,594.70C239.70,601.58 238.22,606.93 236.70,611.70C235.18,616.47 234.48,618.03 232.70,623.30C230.92,628.57 227.90,636.63 226.00,643.30C224.10,649.97 222.75,655.85 221.30,663.30C219.85,670.75 218.73,683.77 217.30,688.00C215.87,692.23 214.13,687.03 212.70,688.70C211.27,690.37 209.82,700.00 208.70,698.00C207.58,696.00 207.00,684.92 206.00,676.70C205.00,668.48 203.82,655.48 202.70,648.70C201.58,641.92 200.63,637.12 199.30,636.00C197.97,634.88 196.80,640.78 194.70,642.00C192.60,643.22 189.03,645.75 186.70,643.30C184.37,640.85 182.37,633.40 180.70,627.30C179.03,621.20 178.48,614.03 176.70,606.70C174.92,599.37 172.23,591.92 170.00,583.30C167.77,574.68 164.68,561.38 163.30,555.00C161.92,548.62 163.08,548.05 161.70,545.00C160.32,541.95 157.50,538.65 155.00,536.70C152.50,534.75 149.70,531.75 146.70,533.30C143.70,534.85 139.28,543.88 137.00,546.00C134.72,548.12 134.33,548.00 133.00,546.00C131.67,544.00 130.92,537.42 129.00,534.00C127.08,530.58 123.98,527.28 121.50,525.50C119.02,523.72 116.23,522.23 114.10,523.30C111.97,524.37 110.48,531.90 108.70,531.90C106.92,531.90 105.00,523.48 103.40,523.30C101.80,523.12 101.05,532.22 99.10,530.80C97.15,529.38 93.92,518.35 91.70,514.80C89.48,511.25 87.58,509.32 85.80,509.50C84.02,509.68 82.68,514.83 81.00,515.90C79.32,516.97 77.22,514.13 75.70,515.90C74.18,517.67 72.53,524.73 71.90,526.50Z" fill="#d9d9d9"/>
<path d="M71.90,489.70C73.07,490.33 76.67,492.70 78.90,493.50C81.13,494.30 83.35,492.73 85.30,494.50C87.25,496.27 88.65,500.72 90.60,504.10C92.55,507.48 94.95,514.43 97.00,514.80C99.05,515.17 101.03,505.58 102.90,506.30C104.77,507.02 106.33,518.30 108.20,519.10C110.07,519.90 111.88,512.53 114.10,511.10C116.32,509.67 119.20,509.70 121.50,510.50C123.80,511.30 125.93,513.65 127.90,515.90C129.87,518.15 131.52,525.97 133.30,524.00C135.08,522.03 136.37,513.65 138.60,504.10C140.83,494.55 144.10,475.43 146.70,466.70C149.30,457.97 152.12,452.27 154.20,451.70C156.28,451.13 157.40,456.37 159.20,463.30C161.00,470.23 162.92,483.30 165.00,493.30C167.08,503.30 169.87,516.35 171.70,523.30C173.53,530.25 174.62,532.22 176.00,535.00C177.38,537.78 178.50,537.78 180.00,540.00C181.50,542.22 182.63,545.80 185.00,548.30C187.37,550.80 192.25,556.22 194.20,555.00C196.15,553.78 195.98,544.83 196.70,541.00C197.42,537.17 197.40,536.47 198.50,532.00C199.60,527.53 201.67,515.08 203.30,514.20C204.93,513.32 206.77,524.90 208.30,526.70C209.83,528.50 210.83,523.62 212.50,525.00C214.17,526.38 215.93,533.05 218.30,535.00C220.67,536.95 224.20,535.70 226.70,536.70C229.20,537.70 231.78,539.75 233.30,541.00C234.82,542.25 234.97,544.37 235.80,544.20C236.63,544.03 237.60,541.25 238.30,540.00C239.00,538.75 238.88,540.32 240.00,536.70C241.12,533.08 243.05,522.20 245.00,518.30C246.95,514.40 248.65,513.30 251.70,513.30C254.75,513.30 259.42,518.30 263.30,518.30C267.18,518.30 271.10,516.90 275.00,513.30C278.90,509.70 283.65,498.63 286.70,496.70C289.75,494.77 290.67,502.82 293.30,501.70C295.93,500.58 300.13,490.70 302.50,490.00C304.87,489.30 305.97,496.95 307.50,497.50C309.03,498.05 309.90,492.47 311.70,493.30C313.50,494.13 316.08,501.80 318.30,502.50C320.52,503.20 322.22,496.67 325.00,497.50C327.78,498.33 331.67,505.42 335.00,507.50C338.33,509.58 341.95,507.92 345.00,510.00C348.05,512.08 351.92,518.33 353.30,520.00L352.90,558.30C351.50,557.83 347.15,558.47 344.50,555.50C341.85,552.53 340.12,545.02 337.00,540.50C333.88,535.98 328.75,527.62 325.80,528.40C322.85,529.18 321.48,545.20 319.30,545.20C317.12,545.20 314.73,530.12 312.70,528.40C310.67,526.68 309.12,535.83 307.10,534.90C305.08,533.97 302.77,521.87 300.60,522.80C298.43,523.73 296.12,537.23 294.10,540.50C292.08,543.77 290.68,540.07 288.50,542.40C286.32,544.73 282.87,552.63 281.00,554.50C279.13,556.37 279.02,552.82 277.30,553.60C275.58,554.38 272.88,559.20 270.70,559.20C268.52,559.20 266.53,554.85 264.20,553.60C261.87,552.35 259.18,551.30 256.70,551.70C254.22,552.10 251.78,553.12 249.30,556.00C246.82,558.88 244.35,562.83 241.80,569.00C239.25,575.17 235.97,586.83 234.00,593.00C232.03,599.17 231.33,601.83 230.00,606.00C228.67,610.17 227.42,613.00 226.00,618.00C224.58,623.00 222.92,631.50 221.50,636.00C220.08,640.50 218.87,643.78 217.50,645.00C216.13,646.22 214.80,642.47 213.30,643.30C211.80,644.13 209.72,651.55 208.50,650.00C207.28,648.45 206.87,639.83 206.00,634.00C205.13,628.17 204.30,619.83 203.30,615.00C202.30,610.17 201.43,604.42 200.00,605.00C198.57,605.58 196.92,616.50 194.70,618.50C192.48,620.50 188.60,618.97 186.70,617.00C184.80,615.03 184.97,611.75 183.30,606.70C181.63,601.65 178.92,593.65 176.70,586.70C174.48,579.75 171.67,571.95 170.00,565.00C168.33,558.05 168.08,551.95 166.70,545.00C165.32,538.05 163.93,528.58 161.70,523.30C159.47,518.02 155.80,514.68 153.30,513.30C150.80,511.92 148.92,513.33 146.70,515.00C144.48,516.67 142.23,519.30 140.00,523.30C137.77,527.30 135.32,537.93 133.30,539.00C131.28,540.07 129.87,532.67 127.90,529.70C125.93,526.73 123.80,522.80 121.50,521.20C119.20,519.60 116.32,519.03 114.10,520.10C111.88,521.17 109.98,527.77 108.20,527.60C106.42,527.43 105.08,519.45 103.40,519.10C101.72,518.75 100.23,526.93 98.10,525.50C95.97,524.07 92.73,514.07 90.60,510.50C88.47,506.93 87.25,504.63 85.30,504.10C83.35,503.57 81.13,506.40 78.90,507.30C76.67,508.20 73.07,509.13 71.90,509.50Z" fill="#878787"/>
<line x1="132.30" y1="428.00" x2="132.30" y2="715.10" stroke="#333" stroke-width="1.45" stroke-dasharray="5.8 5.53"/>
<line x1="54.70" y1="511.80" x2="367.70" y2="511.80" stroke="#333" stroke-width="1.45" stroke-dasharray="5.8 5.53"/>
<path d="M71.90,502.00C72.43,501.68 73.77,499.78 75.10,500.10C76.43,500.42 78.20,504.12 79.90,503.90C81.60,503.68 83.60,498.40 85.30,498.80C87.00,499.20 88.68,504.35 90.10,506.30C91.52,508.25 92.38,508.28 93.80,510.50C95.22,512.72 97.00,519.15 98.60,519.60C100.20,520.05 101.80,512.58 103.40,513.20C105.00,513.82 106.42,523.03 108.20,523.30C109.98,523.57 112.42,515.87 114.10,514.80C115.78,513.73 116.88,516.82 118.30,516.90C119.72,516.98 121.00,514.40 122.60,515.30C124.20,516.20 126.12,519.85 127.90,522.30C129.68,524.75 131.70,530.38 133.30,530.00C134.90,529.62 136.10,524.72 137.50,520.00C138.90,515.28 140.17,506.15 141.70,501.70C143.23,497.25 144.77,496.42 146.70,493.30C148.63,490.18 151.50,484.25 153.30,483.00C155.10,481.75 155.97,482.68 157.50,485.80C159.03,488.92 160.97,496.00 162.50,501.70C164.03,507.40 165.45,513.62 166.70,520.00C167.95,526.38 168.90,533.88 170.00,540.00C171.10,546.12 171.92,551.70 173.30,556.70C174.68,561.70 176.63,566.40 178.30,570.00C179.97,573.60 181.63,575.80 183.30,578.30C184.97,580.80 186.63,583.47 188.30,585.00C189.97,586.53 191.90,587.50 193.30,587.50C194.70,587.50 195.37,589.58 196.70,585.00C198.03,580.42 200.05,562.78 201.30,560.00C202.55,557.22 203.17,563.58 204.20,568.30C205.23,573.02 206.53,584.82 207.50,588.30C208.47,591.78 209.03,589.88 210.00,589.20C210.97,588.52 211.92,584.07 213.30,584.20C214.68,584.33 216.63,590.42 218.30,590.00C219.97,589.58 221.35,584.20 223.30,581.70C225.25,579.20 228.18,576.25 230.00,575.00C231.82,573.75 233.17,575.70 234.20,574.20C235.23,572.70 234.93,570.03 236.20,566.00C237.47,561.97 239.62,555.33 241.80,550.00C243.98,544.67 246.82,536.82 249.30,534.00C251.78,531.18 254.53,532.78 256.70,533.10C258.87,533.42 260.12,535.28 262.30,535.90C264.48,536.52 267.30,537.58 269.80,536.80C272.30,536.02 275.43,532.28 277.30,531.20C279.17,530.12 279.43,532.22 281.00,530.30C282.57,528.38 284.92,521.13 286.70,519.70C288.48,518.27 290.03,522.77 291.70,521.70C293.37,520.63 295.03,515.87 296.70,513.30C298.37,510.73 299.90,505.80 301.70,506.30C303.50,506.80 305.70,515.55 307.50,516.30C309.30,517.05 310.55,509.22 312.50,510.80C314.45,512.38 316.98,525.38 319.20,525.80C321.42,526.22 323.17,513.98 325.80,513.30C328.43,512.62 332.63,519.88 335.00,521.70C337.37,523.52 338.05,521.15 340.00,524.20C341.95,527.25 345.03,537.50 346.70,540.00C348.37,542.50 348.90,539.20 350.00,539.20C351.10,539.20 352.75,539.87 353.30,540.00" fill="none" stroke="#000" stroke-width="2.8" stroke-linejoin="round" stroke-linecap="butt"/>
<path d="M57.90,405.90L57.90,715.10L367.70,715.10" fill="none" stroke="#000" stroke-width="1.45" stroke-linejoin="round"/>
<line x1="54.40" y1="430.70" x2="57.90" y2="430.70" stroke="#333" stroke-width="1.2"/>
<text x="51.40" y="434.90" text-anchor="end" font-size="12" fill="#4d4d4d">0.50</text>
<line x1="54.40" y1="511.80" x2="57.90" y2="511.80" stroke="#333" stroke-width="1.2"/>
<text x="51.40" y="516.00" text-anchor="end" font-size="12" fill="#4d4d4d">0.00</text>
<line x1="54.40" y1="592.60" x2="57.90" y2="592.60" stroke="#333" stroke-width="1.2"/>
<text x="51.40" y="596.80" text-anchor="end" font-size="12" fill="#4d4d4d">−0.50</text>
<line x1="54.40" y1="673.60" x2="57.90" y2="673.60" stroke="#333" stroke-width="1.2"/>
<text x="51.40" y="677.80" text-anchor="end" font-size="12" fill="#4d4d4d">−1.00</text>
<line x1="132.40" y1="715.10" x2="132.40" y2="718.60" stroke="#333" stroke-width="1.2"/>
<text x="132.40" y="729.80" text-anchor="middle" font-size="12" fill="#4d4d4d">0</text>
<line x1="213.40" y1="715.10" x2="213.40" y2="718.60" stroke="#333" stroke-width="1.2"/>
<text x="213.40" y="729.80" text-anchor="middle" font-size="12" fill="#4d4d4d">2</text>
<line x1="294.30" y1="715.10" x2="294.30" y2="718.60" stroke="#333" stroke-width="1.2"/>
<text x="294.30" y="729.80" text-anchor="middle" font-size="12" fill="#4d4d4d">4</text>
<rect x="72.20" y="422.10" width="59.00" height="3" fill="#c8102e"/>
<text x="101.70" y="419.00" text-anchor="middle" font-size="12" fill="#c8102e">Baseline</text>
<rect x="133.50" y="422.10" width="38.30" height="3" fill="#1f6eb4"/>
<text x="152.65" y="419.00" text-anchor="middle" font-size="12" fill="#1f6eb4">Cue</text>
<rect x="194.00" y="422.10" width="79.50" height="3" fill="#e69f00"/>
<text x="233.75" y="419.00" text-anchor="middle" font-size="12" fill="#e69f00">Reward</text>
<text x="212.60" y="394.50" text-anchor="middle" font-size="17.1" font-weight="bold" fill="#000">Lick State</text>
<text transform="translate(2.20,393.40) scale(1,1.08)" font-size="19.5" font-weight="bold" fill="#000">C</text>
<text x="212.70" y="746.80" text-anchor="middle" font-size="14.5" fill="#000">Time (s)</text>
<text transform="translate(11.00,560.00) rotate(-90)" text-anchor="middle" font-size="14.5" fill="#000">β<tspan font-size="8.5" dy="2.2">2</tspan><tspan dy="-2.2" dx="0.8">(s)</tspan></text>
<path d="M453.70,622.00C454.33,621.02 456.25,615.57 457.50,616.10C458.75,616.63 459.78,624.13 461.20,625.20C462.62,626.27 464.32,622.50 466.00,622.50C467.68,622.50 469.70,626.00 471.30,625.20C472.90,624.40 474.00,616.82 475.60,617.70C477.20,618.58 479.22,629.97 480.90,630.50C482.58,631.03 484.00,620.53 485.70,620.90C487.40,621.27 489.23,633.85 491.10,632.70C492.97,631.55 495.03,616.50 496.90,614.00C498.77,611.50 500.52,619.38 502.30,617.70C504.08,616.02 505.83,607.63 507.60,603.90C509.37,600.17 511.12,596.20 512.90,595.30C514.68,594.40 516.23,597.22 518.30,598.50C520.37,599.78 523.35,603.35 525.30,603.00C527.25,602.65 528.25,599.40 530.00,596.40C531.75,593.40 533.30,585.23 535.80,585.00C538.30,584.77 542.45,596.17 545.00,595.00C547.55,593.83 549.20,584.95 551.10,578.00C553.00,571.05 554.53,560.52 556.40,553.30C558.27,546.08 560.52,537.18 562.30,534.70C564.08,532.22 565.23,541.97 567.10,538.40C568.97,534.83 571.37,514.55 573.50,513.30C575.63,512.05 577.95,529.38 579.90,530.90C581.85,532.42 583.80,530.88 585.20,522.40C586.60,513.92 587.22,492.07 588.30,480.00C589.38,467.93 590.45,456.80 591.70,450.00C592.95,443.20 594.42,439.48 595.80,439.20C597.18,438.92 598.47,442.88 600.00,448.30C601.53,453.72 603.05,462.80 605.00,471.70C606.95,480.60 609.62,491.70 611.70,501.70C613.78,511.70 615.98,524.48 617.50,531.70C619.02,538.92 619.55,544.73 620.80,545.00C622.05,545.27 623.75,535.80 625.00,533.30C626.25,530.80 626.63,529.43 628.30,530.00C629.97,530.57 632.77,531.42 635.00,536.70C637.23,541.98 640.03,555.03 641.70,561.70C643.37,568.37 643.33,575.32 645.00,576.70C646.67,578.08 649.48,571.40 651.70,570.00C653.92,568.60 655.53,573.58 658.30,568.30C661.07,563.02 665.52,542.18 668.30,538.30C671.08,534.42 672.22,544.72 675.00,545.00C677.78,545.28 681.38,535.83 685.00,540.00C688.62,544.17 693.23,567.78 696.70,570.00C700.17,572.22 702.75,551.63 705.80,553.30C708.85,554.97 712.08,580.00 715.00,580.00C717.92,580.00 721.08,557.18 723.30,553.30C725.52,549.42 726.35,558.63 728.30,556.70C730.25,554.77 733.88,544.20 735.00,541.70L735.20,636.00C734.97,632.33 734.80,616.38 733.80,614.00C732.80,611.62 730.95,622.37 729.20,621.70C727.45,621.03 725.38,609.17 723.30,610.00C721.22,610.83 719.47,626.15 716.70,626.70C713.93,627.25 709.62,611.37 706.70,613.30C703.78,615.23 701.70,637.47 699.20,638.30C696.70,639.13 694.35,624.97 691.70,618.30C689.05,611.63 686.13,599.13 683.30,598.30C680.47,597.47 677.25,609.90 674.70,613.30C672.15,616.70 669.57,615.58 668.00,618.70C666.43,621.82 666.30,627.23 665.30,632.00C664.30,636.77 663.10,645.08 662.00,647.30C660.90,649.52 660.15,645.30 658.70,645.30C657.25,645.30 655.53,649.30 653.30,647.30C651.07,645.30 647.52,638.52 645.30,633.30C643.08,628.08 641.82,620.22 640.00,616.00C638.18,611.78 636.27,610.13 634.40,608.00C632.53,605.87 630.40,603.20 628.80,603.20C627.20,603.20 626.10,605.20 624.80,608.00C623.50,610.80 622.20,616.40 621.00,620.00C619.80,623.60 619.10,627.85 617.60,629.60C616.10,631.35 613.60,629.77 612.00,630.50C610.40,631.23 609.33,632.15 608.00,634.00C606.67,635.85 605.33,640.10 604.00,641.60C602.67,643.10 601.50,641.72 600.00,643.00C598.50,644.28 596.50,645.35 595.00,649.30C593.50,653.25 592.33,658.70 591.00,666.70C589.67,674.70 588.55,697.30 587.00,697.30C585.45,697.30 583.25,676.92 581.70,666.70C580.15,656.48 579.03,642.45 577.70,636.00C576.37,629.55 574.82,628.67 573.70,628.00C572.58,627.33 572.12,626.88 571.00,632.00C569.88,637.12 568.55,655.58 567.00,658.70C565.45,661.82 563.70,651.37 561.70,650.70C559.70,650.03 556.78,651.37 555.00,654.70C553.22,658.03 552.55,665.37 551.00,670.70C549.45,676.03 547.48,682.27 545.70,686.70C543.92,691.13 542.53,697.75 540.30,697.30C538.07,696.85 534.52,687.33 532.30,684.00C530.08,680.67 528.77,681.30 527.00,677.30C525.23,673.30 523.15,666.20 521.70,660.00C520.25,653.80 519.58,645.55 518.30,640.10C517.02,634.65 515.78,629.25 514.00,627.30C512.22,625.35 509.55,627.23 507.60,628.40C505.65,629.57 504.08,633.77 502.30,634.30C500.52,634.83 498.68,629.03 496.90,631.60C495.12,634.17 493.37,648.28 491.60,649.70C489.83,651.12 487.90,639.73 486.30,640.10C484.70,640.47 483.78,653.13 482.00,651.90C480.22,650.67 477.38,634.48 475.60,632.70C473.82,630.92 472.82,639.97 471.30,641.20C469.78,642.43 468.10,638.32 466.50,640.10C464.90,641.88 463.53,649.42 461.70,651.90C459.87,654.38 456.83,651.65 455.50,655.00C454.17,658.35 454.00,669.17 453.70,672.00Z" fill="#d9d9d9"/>
<path d="M453.70,630.50C454.33,629.27 456.17,622.73 457.50,623.10C458.83,623.47 460.20,632.08 461.70,632.70C463.20,633.32 464.98,627.52 466.50,626.80C468.02,626.08 469.28,629.38 470.80,628.40C472.32,627.42 473.82,619.65 475.60,620.90C477.38,622.15 479.82,634.83 481.50,635.90C483.18,636.97 484.02,626.95 485.70,627.30C487.38,627.65 489.73,639.50 491.60,638.00C493.47,636.50 495.22,621.05 496.90,618.30C498.58,615.55 499.92,623.02 501.70,621.50C503.48,619.98 505.55,612.32 507.60,609.20C509.65,606.08 511.87,602.98 514.00,602.80C516.13,602.62 518.45,605.62 520.40,608.10C522.35,610.58 524.10,616.45 525.70,617.70C527.30,618.95 528.45,617.17 530.00,615.60C531.55,614.03 532.50,608.12 535.00,608.30C537.50,608.48 541.95,620.87 545.00,616.70C548.05,612.53 551.47,589.75 553.30,583.30C555.13,576.85 554.42,581.83 556.00,578.00C557.58,574.17 560.95,562.63 562.80,560.30C564.65,557.97 565.23,567.73 567.10,564.00C568.97,560.27 571.70,538.70 574.00,537.90C576.30,537.10 578.85,558.40 580.90,559.20C582.95,560.00 584.78,551.73 586.30,542.70C587.82,533.67 588.42,514.62 590.00,505.00C591.58,495.38 594.00,486.38 595.80,485.00C597.60,483.62 598.98,491.15 600.80,496.70C602.62,502.25 604.62,510.53 606.70,518.30C608.78,526.07 611.63,537.18 613.30,543.30C614.97,549.42 615.45,552.22 616.70,555.00C617.95,557.78 619.55,560.83 620.80,560.00C622.05,559.17 622.80,552.50 624.20,550.00C625.60,547.50 627.12,543.88 629.20,545.00C631.28,546.12 633.78,549.20 636.70,556.70C639.62,564.20 643.93,585.00 646.70,590.00C649.47,595.00 650.80,587.82 653.30,586.70C655.80,585.58 659.20,588.45 661.70,583.30C664.20,578.15 666.08,559.40 668.30,555.80C670.52,552.20 672.22,562.12 675.00,561.70C677.78,561.28 681.12,549.97 685.00,553.30C688.88,556.63 694.68,579.62 698.30,581.70C701.92,583.78 703.63,564.42 706.70,565.80C709.77,567.18 713.93,590.27 716.70,590.00C719.47,589.73 721.22,567.82 723.30,564.20C725.38,560.58 727.25,568.72 729.20,568.30C731.15,567.88 734.03,562.80 735.00,561.70L735.00,600.00C733.88,601.12 730.25,607.25 728.30,606.70C726.35,606.15 725.23,595.03 723.30,596.70C721.37,598.37 719.47,616.43 716.70,616.70C713.93,616.97 709.62,597.47 706.70,598.30C703.78,599.13 701.70,620.87 699.20,621.70C696.70,622.53 694.35,609.13 691.70,603.30C689.05,597.47 687.03,586.80 683.30,586.70C679.57,586.60 672.30,598.27 669.30,602.70C666.30,607.13 666.63,608.87 665.30,613.30C663.97,617.73 663.73,626.85 661.30,629.30C658.87,631.75 653.58,630.67 650.70,628.00C647.82,625.33 646.33,618.80 644.00,613.30C641.67,607.80 639.03,599.22 636.70,595.00C634.37,590.78 632.33,586.67 630.00,588.00C627.67,589.33 624.82,599.45 622.70,603.00C620.58,606.55 619.75,608.92 617.30,609.30C614.85,609.68 610.33,605.73 608.00,605.30C605.67,604.87 605.47,606.47 603.30,606.70C601.13,606.93 597.08,603.10 595.00,606.70C592.92,610.30 592.35,620.53 590.80,628.30C589.25,636.07 587.50,653.30 585.70,653.30C583.90,653.30 581.78,636.63 580.00,628.30C578.22,619.97 576.38,606.07 575.00,603.30C573.62,600.53 573.15,607.13 571.70,611.70C570.25,616.27 567.87,628.20 566.30,630.70C564.73,633.20 563.73,626.48 562.30,626.70C560.87,626.92 559.13,629.33 557.70,632.00C556.27,634.67 555.48,637.37 553.70,642.70C551.92,648.03 549.12,658.67 547.00,664.00C544.88,669.33 543.22,674.48 541.00,674.70C538.78,674.92 536.25,667.75 533.70,665.30C531.15,662.85 527.57,662.60 525.70,660.00C523.83,657.40 523.73,654.25 522.50,649.70C521.27,645.15 519.72,637.32 518.30,632.70C516.88,628.08 515.78,623.60 514.00,622.00C512.22,620.40 509.55,621.77 507.60,623.10C505.65,624.43 504.08,629.47 502.30,630.00C500.52,630.53 498.68,623.72 496.90,626.30C495.12,628.88 493.37,643.73 491.60,645.50C489.83,647.27 487.90,636.73 486.30,636.90C484.70,637.07 483.78,648.10 482.00,646.50C480.22,644.90 477.47,628.90 475.60,627.30C473.73,625.70 472.40,635.65 470.80,636.90C469.20,638.15 467.68,633.37 466.00,634.80C464.32,636.23 462.75,643.55 460.70,645.50C458.65,647.45 454.87,646.33 453.70,646.50Z" fill="#878787"/>
<line x1="514.30" y1="427.00" x2="514.30" y2="714.90" stroke="#333" stroke-width="1.45" stroke-dasharray="5.8 5.53"/>
<line x1="436.30" y1="630.40" x2="750.50" y2="630.40" stroke="#333" stroke-width="1.45" stroke-dasharray="5.8 5.53"/>
<path d="M453.70,644.90C454.07,643.22 455.27,636.83 455.90,634.80C456.53,632.77 456.62,631.98 457.50,632.70C458.38,633.42 459.78,639.37 461.20,639.10C462.62,638.83 464.40,632.17 466.00,631.10C467.60,630.03 469.20,633.95 470.80,632.70C472.40,631.45 473.82,622.27 475.60,623.60C477.38,624.93 479.82,639.18 481.50,640.70C483.18,642.22 484.02,632.53 485.70,632.70C487.38,632.87 490.08,642.23 491.60,641.70C493.12,641.17 493.82,632.78 494.80,629.50C495.78,626.22 496.35,622.63 497.50,622.00C498.65,621.37 500.20,626.58 501.70,625.70C503.20,624.82 504.63,619.00 506.50,616.70C508.37,614.40 510.93,611.37 512.90,611.90C514.87,612.43 516.83,616.77 518.30,619.90C519.77,623.03 520.47,627.35 521.70,630.70C522.93,634.05 524.15,638.90 525.70,640.00C527.25,641.10 529.23,637.42 531.00,637.30C532.77,637.18 534.42,637.97 536.30,639.30C538.18,640.63 540.52,645.18 542.30,645.30C544.08,645.42 545.47,643.88 547.00,640.00C548.53,636.12 550.03,627.83 551.50,622.00C552.97,616.17 553.97,609.83 555.80,605.00C557.63,600.17 560.55,594.12 562.50,593.00C564.45,591.88 565.68,602.22 567.50,598.30C569.32,594.38 571.60,571.72 573.40,569.50C575.20,567.28 576.50,579.63 578.30,585.00C580.10,590.37 582.53,601.42 584.20,601.70C585.87,601.98 586.92,594.20 588.30,586.70C589.68,579.20 591.25,563.82 592.50,556.70C593.75,549.58 594.42,545.12 595.80,544.00C597.18,542.88 599.27,547.75 600.80,550.00C602.33,552.25 603.47,555.28 605.00,557.50C606.53,559.72 608.33,560.38 610.00,563.30C611.67,566.22 613.33,571.38 615.00,575.00C616.67,578.62 618.33,585.55 620.00,585.00C621.67,584.45 623.47,574.95 625.00,571.70C626.53,568.45 627.82,565.78 629.20,565.50C630.58,565.22 631.50,567.03 633.30,570.00C635.10,572.97 638.33,579.42 640.00,583.30C641.67,587.18 642.18,589.52 643.30,593.30C644.42,597.08 645.58,603.50 646.70,606.00C647.82,608.50 648.62,608.05 650.00,608.30C651.38,608.55 653.20,607.77 655.00,607.50C656.80,607.23 659.13,609.62 660.80,606.70C662.47,603.78 663.75,594.73 665.00,590.00C666.25,585.27 666.92,579.27 668.30,578.30C669.68,577.33 671.63,585.03 673.30,584.20C674.97,583.37 676.48,575.72 678.30,573.30C680.12,570.88 682.25,567.47 684.20,569.70C686.15,571.93 687.65,581.23 690.00,586.70C692.35,592.17 695.52,603.20 698.30,602.50C701.08,601.80 704.33,584.03 706.70,582.50C709.07,580.97 710.83,589.83 712.50,593.30C714.17,596.77 714.90,605.65 716.70,603.30C718.50,600.95 721.50,581.55 723.30,579.20C725.10,576.85 725.97,588.93 727.50,589.20C729.03,589.47 731.12,581.08 732.50,580.80C733.88,580.52 735.25,586.38 735.80,587.50" fill="none" stroke="#000" stroke-width="2.8" stroke-linejoin="round" stroke-linecap="butt"/>
<path d="M439.50,405.90L439.50,714.90L750.50,714.90" fill="none" stroke="#000" stroke-width="1.45" stroke-linejoin="round"/>
<line x1="436.00" y1="466.70" x2="439.50" y2="466.70" stroke="#333" stroke-width="1.2"/>
<text x="433.00" y="470.90" text-anchor="end" font-size="12" fill="#4d4d4d">1.00</text>
<line x1="436.00" y1="548.50" x2="439.50" y2="548.50" stroke="#333" stroke-width="1.2"/>
<text x="433.00" y="552.70" text-anchor="end" font-size="12" fill="#4d4d4d">0.50</text>
<line x1="436.00" y1="630.40" x2="439.50" y2="630.40" stroke="#333" stroke-width="1.2"/>
<text x="433.00" y="634.60" text-anchor="end" font-size="12" fill="#4d4d4d">0.00</text>
<line x1="436.00" y1="712.50" x2="439.50" y2="712.50" stroke="#333" stroke-width="1.2"/>
<text x="433.00" y="716.70" text-anchor="end" font-size="12" fill="#4d4d4d">−0.50</text>
<line x1="514.10" y1="714.90" x2="514.10" y2="718.40" stroke="#333" stroke-width="1.2"/>
<text x="514.10" y="729.60" text-anchor="middle" font-size="12" fill="#4d4d4d">0</text>
<line x1="595.30" y1="714.90" x2="595.30" y2="718.40" stroke="#333" stroke-width="1.2"/>
<text x="595.30" y="729.60" text-anchor="middle" font-size="12" fill="#4d4d4d">2</text>
<line x1="676.30" y1="714.90" x2="676.30" y2="718.40" stroke="#333" stroke-width="1.2"/>
<text x="676.30" y="729.60" text-anchor="middle" font-size="12" fill="#4d4d4d">4</text>
<rect x="454.30" y="422.10" width="59.30" height="3" fill="#c8102e"/>
<text x="483.95" y="419.00" text-anchor="middle" font-size="12" fill="#c8102e">Baseline</text>
<rect x="515.10" y="422.10" width="39.00" height="3" fill="#1f6eb4"/>
<text x="534.60" y="419.00" text-anchor="middle" font-size="12" fill="#1f6eb4">Cue</text>
<rect x="575.80" y="422.10" width="79.80" height="3" fill="#e69f00"/>
<text x="615.70" y="419.00" text-anchor="middle" font-size="12" fill="#e69f00">Reward</text>
<text x="595.00" y="394.50" text-anchor="middle" font-size="17.1" font-weight="bold" fill="#000">Final Latency x Lick State</text>
<text transform="translate(397.30,393.60) scale(1,1.1)" font-size="18.3" font-weight="bold" fill="#000">D</text>
<text x="594.80" y="746.80" text-anchor="middle" font-size="14.5" fill="#000">Time (s)</text>
<text transform="translate(393.00,560.00) rotate(-90)" text-anchor="middle" font-size="14.5" fill="#000">β<tspan font-size="8.5" dy="2.2">3</tspan><tspan dy="-2.2" dx="0.8">(s)</tspan></text>
</svg>
</body></html>
